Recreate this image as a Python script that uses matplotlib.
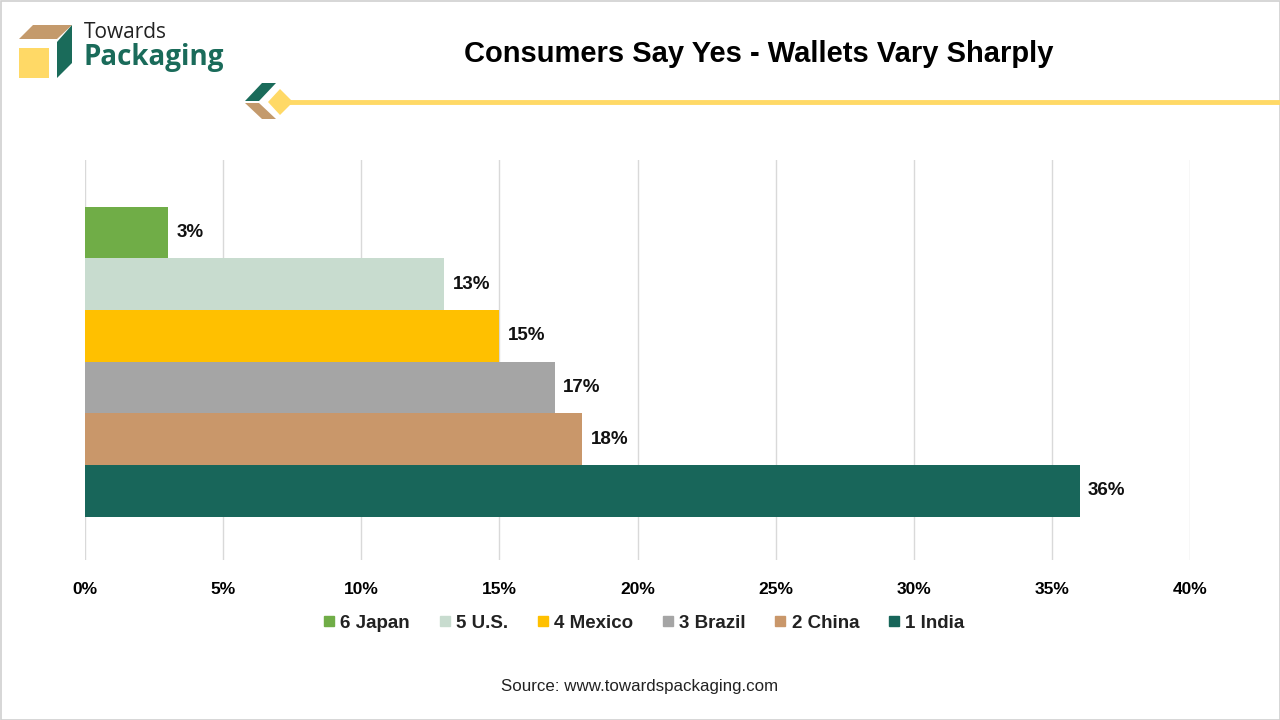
import matplotlib.pyplot as plt
from matplotlib.patches import Polygon, Rectangle
from matplotlib.lines import Line2D

plt.rcParams["font.family"] = ["Liberation Sans", "DejaVu Sans"]

# data (bottom to top as drawn)
countries = ["1 India", "2 China", "3 Brazil", "4 Mexico", "5 U.S.", "6 Japan"]
shares = [36, 18, 17, 15, 13, 3]
colors = ["#18665A", "#C9976A", "#A5A5A5", "#FFC000", "#C8DCCF", "#70AD47"]
ticks = [0, 5, 10, 15, 20, 25, 30, 35, 40]
tick_labels = [f"{t}%" for t in ticks]

fig = plt.figure(figsize=(12.8, 7.2), dpi=100)
fig.patch.set_facecolor("white")

ax = fig.add_axes([85 / 1280, 1 - 560 / 720, 1105 / 1280, 400 / 720])
ypos = list(range(len(countries)))
ax.barh(ypos, shares, height=1.0, color=colors, zorder=2)
for y, v in zip(ypos, shares):
    ax.text(v + 0.3, y, f"{v}%", va="center", ha="left",
            fontsize=13.5, fontweight="bold", color="#111111")

ax.set_xlim(0, 40)
ax.set_ylim(-1.335, 6.40)
ax.set_xticks(ticks)
ax.set_xticklabels(tick_labels, fontsize=12.5, fontweight="bold")
ax.set_yticks([])
ax.tick_params(axis="x", length=0, pad=16)
ax.grid(axis="x", color="#D9D9D9", linewidth=1, zorder=0)
for s in ax.spines.values():
    s.set_visible(False)

# legend, Japan first
handles = [Line2D([], [], marker="s", linestyle="none", markersize=7.5,
                  color=c) for c in colors[::-1]]
leg = fig.legend(handles, countries[::-1], loc="center",
                 bbox_to_anchor=(643 / 1280, 1 - 623 / 720), ncol=6,
                 frameon=False, fontsize=13.5, handletextpad=0.2,
                 columnspacing=1.45, handlelength=0.8)
for t in leg.get_texts():
    t.set_fontweight("bold")
    t.set_color("#222222")

# overlay for title, logo and decoration (pixel coordinates)
ov = fig.add_axes([0, 0, 1, 1], zorder=-1)
ov.set_xlim(0, 1280)
ov.set_ylim(720, 0)
ov.axis("off")

ov.add_patch(Rectangle((0.5, 0.5), 1279, 719, fill=False,
                       edgecolor="#D0D0D0", linewidth=1.2))

ov.text(759, 54, "Consumers Say Yes - Wallets Vary Sharply", ha="center",
        va="center", fontsize=21, fontweight="bold", color="#000000")

# logo
ov.add_patch(Rectangle((19, 48), 30, 30, color="#FFD966", linewidth=0))
ov.add_patch(Polygon([(19, 39), (33, 25), (72, 25), (57, 39)],
                     color="#C49A6C", linewidth=0))
ov.add_patch(Polygon([(57, 42), (72, 25), (72, 63), (57, 78)],
                     color="#1A6B5A", linewidth=0))
ov.text(84, 32, "Towards", fontsize=15, color="#222222", va="center",
        family=["Open Sans", "DejaVu Sans"])
ov.text(83, 57, "Packaging", fontsize=20, color="#1A6B5A", va="center",
        fontweight="bold", family=["Open Sans", "DejaVu Sans"])

# decoration line
ov.plot([288, 1280], [101.5, 101.5], color="#FFD966", linewidth=3.5,
        solid_capstyle="butt")
ov.add_patch(Polygon([(245, 101), (262, 83), (276, 83), (259, 101)],
                     color="#1A6B5A", linewidth=0))
ov.add_patch(Polygon([(245, 103), (259, 103), (276, 119), (262, 119)],
                     color="#C49A6C", linewidth=0))
ov.add_patch(Polygon([(268, 102), (280, 89), (293, 102), (280, 115)],
                     color="#FFD966", linewidth=0))

ov.text(640, 686, "Source: www.towardspackaging.com", ha="center",
        va="center", fontsize=12.2, color="#222222")

fig.savefig("out.png", dpi=100, facecolor="white")
